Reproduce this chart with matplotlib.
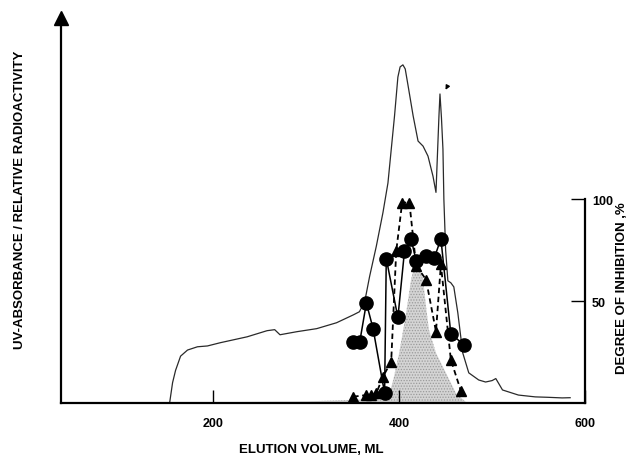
import matplotlib
matplotlib.use('Agg')
import matplotlib.pyplot as plt

plt.rcParams['font.family'] = ['Liberation Sans', 'DejaVu Sans']
plt.rcParams['font.weight'] = 'bold'
plt.rcParams['hatch.linewidth'] = 0.6

# UV absorbance trace (elution volume, ml / relative units)
uv_vol = [152.9, 156.1, 159.3, 164.7, 172.2, 182.9, 193.6, 207.5, 236.4, 257.8, 266.0,
          271.7, 289.8, 311.2, 332.6, 350.8, 357.2, 363.0, 368.2, 375.4, 382.5, 387.9,
          395.0, 398.6, 401.0, 404.0, 406.5, 409.6, 415.0, 420.3, 425.7, 431.0, 436.4,
          439.6, 442.8, 443.9, 445.5, 447.1, 448.1, 450.0, 452.4, 455.6, 458.8, 463.1,
          468.4, 474.9, 485.6, 493.0, 500.0, 504.0, 511.2, 528.3, 546.5, 560.0, 575.4,
          584.0]
uv_val = [0, 10, 16, 23, 26, 27.6, 28, 29.6, 32.5, 35.5, 36.0,
          33.5, 35.0, 36.5, 39.4, 43.3, 44.8, 50.0, 62.2, 77.0, 93.4, 108.0,
          141.0, 160.0, 165.0, 166.0, 164.0, 155.7, 141.0, 128.6, 126.1, 121.2, 111.3,
          103.4, 140.9, 151.7, 140.0, 124.6, 100.0, 75.0, 60.0, 59.0, 57.0, 44.3,
          24.6, 14.8, 11.3, 10.3, 11.0, 12.0, 6.4, 3.9, 3.0, 2.8, 2.5,
          2.6]

# relative radioactivity (shaded)
rad_vol = [180, 300, 350, 375.4, 389, 393.6, 400, 407.5, 412.8, 416, 419.3, 421.4,
           425.7, 428.9, 432, 439.6, 450.3, 461, 471.7, 500]
rad_val = [0.3, 0.8, 1.5, 2, 4, 11.3, 24.6, 44.3, 60.6, 66.5, 68, 67.5,
           60.6, 47.3, 36, 24.6, 14.8, 4.9, 0.5, 0.2]

# degree of inhibition, % (circles, solid)
dot_vol = [350.5, 357.5, 364.7, 371.9, 384.3, 386.1, 398.6, 405.7, 412.8, 418.2,
           428.9, 437.8, 444.9, 455.6, 469.8]
dot_pct = [29.9, 29.9, 49.1, 36.5, 4.8, 70.9, 42.0, 74.5, 80.6, 69.9,
           72.3, 71.2, 80.6, 33.9, 28.6]

# degree of inhibition, % (triangles, dashed)
tri_vol = [350.5, 364.7, 370.1, 375.4, 382.6, 391.4, 396.8, 403.2, 411.0, 418.2,
           428.9, 439.6, 444.9, 455.6, 466.3]
tri_pct = [3.1, 3.9, 3.9, 4.8, 13.0, 20.3, 74.5, 98.4, 98.4, 67.5,
           60.6, 35.1, 68.0, 21.2, 6.1]

x_ticks = [200, 400, 600]
right_ticks = [50, 100]

fig = plt.figure(figsize=(6.31, 4.56), dpi=100)
ax = fig.add_axes([61 / 631, 52 / 456, 524 / 631, 385 / 456])
ax.set_xlim(36, 600)
ax.set_ylim(0, 189)

ax.fill_between(rad_vol, rad_val, facecolor='#d4d4d4', edgecolor='#9a9a9a',
                linewidth=0, hatch='......', zorder=1)
ax.plot(uv_vol, uv_val, color='#2a2a2a', lw=0.9, zorder=2)
ax.plot(tri_vol, tri_pct, '--^', color='k', ms=7.5, lw=1.3, dashes=(3, 2), zorder=3)
ax.plot(dot_vol, dot_pct, '-o', color='k', ms=9.5, lw=1.1, zorder=4)
ax.annotate('', xy=(448.5, 152.5), xytext=(452.5, 156.0),
            arrowprops=dict(arrowstyle='-|>', color='k', lw=1, mutation_scale=6))

ax2 = ax.twinx()
ax2.set_ylim(ax.get_ylim())

for s in ['top', 'right']:
    ax.spines[s].set_visible(False)
for s in ['left', 'bottom']:
    ax.spines[s].set_linewidth(1.6)
ax.plot(0, 1, '^', color='k', ms=10, transform=ax.transAxes, clip_on=False)

ax.set_xticks(x_ticks)
ax.tick_params(axis='x', direction='in', length=9.5, width=1, pad=10, labelsize=9)
ax.tick_params(axis='y', left=False, labelleft=False, right=False, labelright=False)

for s in ['top', 'left', 'bottom']:
    ax2.spines[s].set_visible(False)
ax2.spines['right'].set_bounds(0, 100)
ax2.spines['right'].set_linewidth(1.6)
ax2.set_yticks(right_ticks)
ax2.tick_params(axis='y', direction='in', length=10, width=1, pad=5, labelsize=9)

fig.text(20 / 631, 1 - 200 / 456, 'UV-ABSORBANCE / RELATIVE RADIOACTIVITY',
         rotation=90, ha='center', va='center', fontsize=9.5)
fig.text(622 / 631, 1 - 288 / 456, 'DEGREE OF INHIBITION ,%',
         rotation=90, ha='center', va='center', fontsize=9.5)
fig.text(311 / 631, 1 - 450 / 456, 'ELUTION VOLUME, ML',
         ha='center', va='center', fontsize=9.5)

fig.savefig('out.png', dpi=100)
